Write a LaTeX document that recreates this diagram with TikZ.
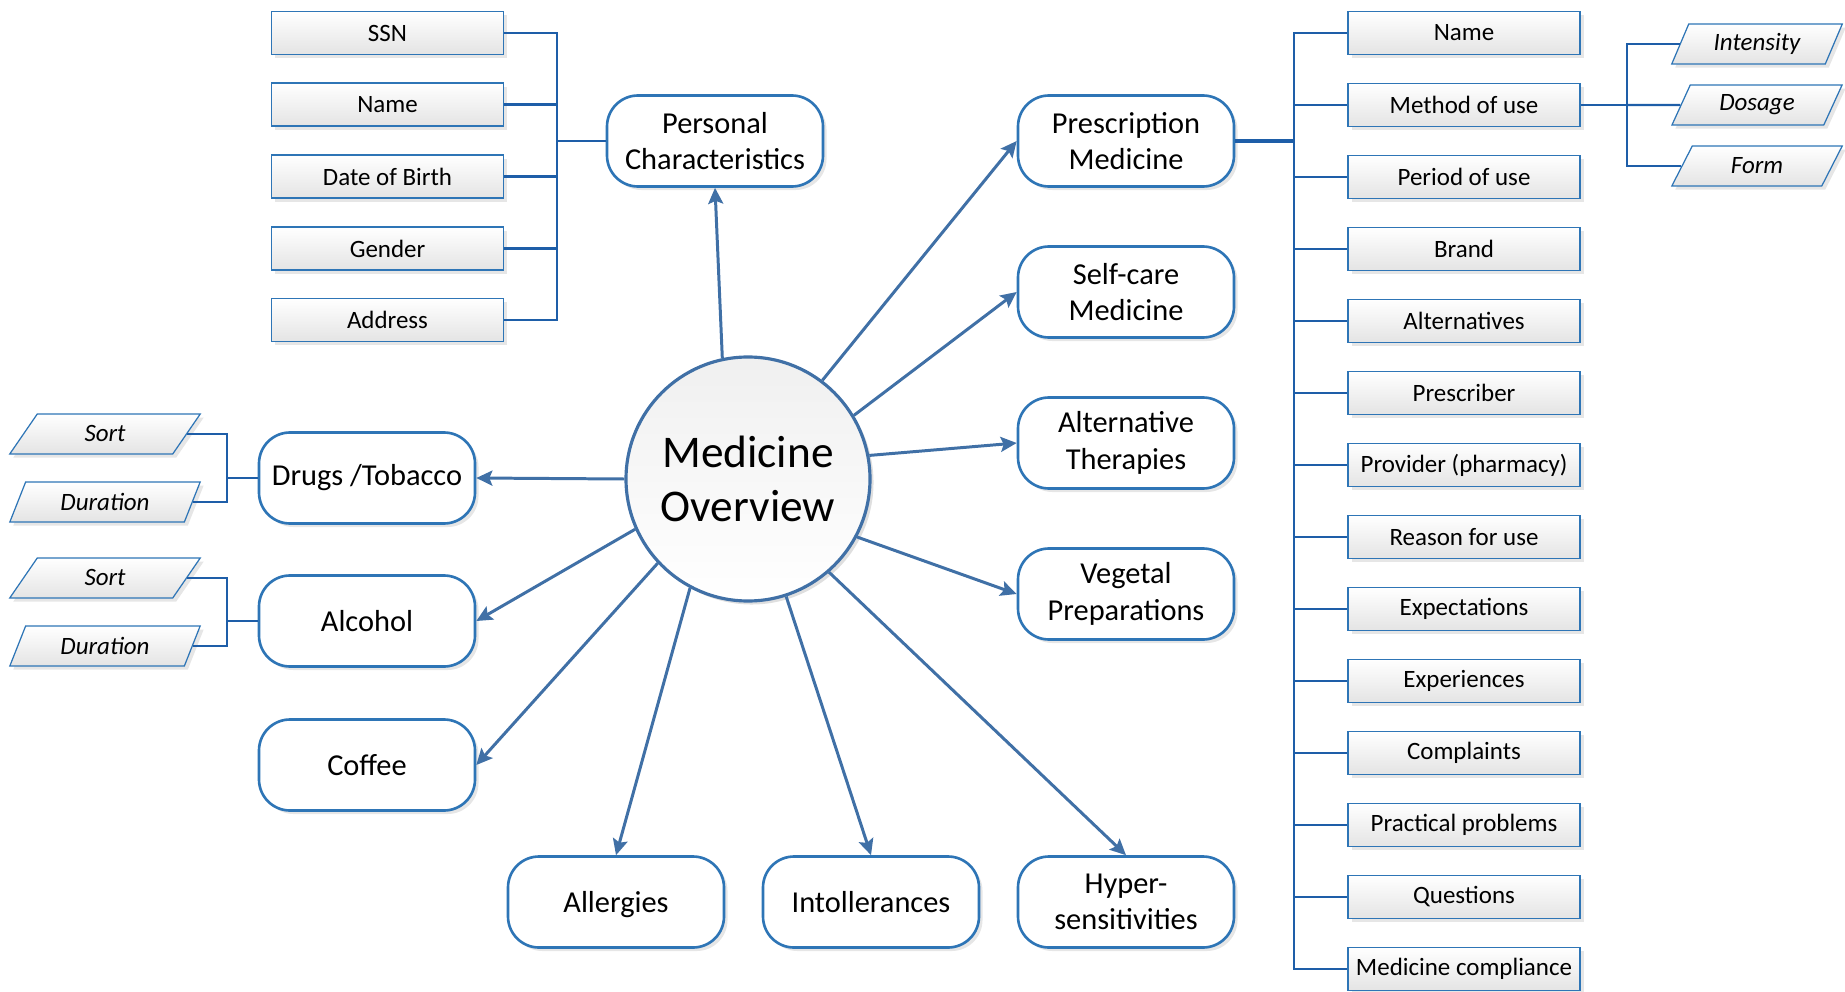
\documentclass[tikz,border=0pt]{standalone}
\usepackage{fontspec}
\setmainfont{Carlito}
\usepackage{tikz}
\usetikzlibrary{arrows.meta,positioning,shapes.geometric,shadows}
\definecolor{arrowblue}{RGB}{64,112,166}
\definecolor{linkblue}{RGB}{30,94,168}
\definecolor{boxblue}{RGB}{46,117,182}
\definecolor{boxgray}{RGB}{228,228,228}

\begin{document}
\begin{tikzpicture}[
    hub/.style={circle, draw=arrowblue, line width=1.8pt, minimum size=4.88cm,
                top color=gray!12, bottom color=white, align=center,
                font=\fontsize{25.8}{31}\selectfont,
                drop shadow={shadow xshift=2pt, shadow yshift=-2pt, opacity=0.25}},
    topic/.style={draw=boxblue, line width=1.5pt, rounded corners=0.62cm,
                  minimum width=4.32cm, minimum height=1.82cm, fill=white,
                  align=center, inner sep=0pt, font=\fontsize{17.3}{20.7}\selectfont,
                  drop shadow={shadow xshift=2pt, shadow yshift=-2pt, opacity=0.2}},
    item/.style={draw=boxblue, line width=0.7pt, minimum width=4.64cm,
                 minimum height=0.86cm, inner sep=0pt, top color=white,
                 bottom color=boxgray, font=\fontsize{14.2}{16}\selectfont,
                 drop shadow={shadow xshift=2pt, shadow yshift=-2pt, opacity=0.2}},
    detail/.style={trapezium, trapezium left angle=63, trapezium right angle=117,
                   trapezium stretches=true, draw=boxblue, line width=0.7pt,
                   minimum height=0.8cm, inner sep=0pt, top color=white,
                   bottom color=boxgray, font=\fontsize{14.2}{16}\selectfont\itshape,
                   drop shadow={shadow xshift=2pt, shadow yshift=-2pt, opacity=0.2}},
    arrow/.style={-{Stealth[length=0.32cm, width=0.3cm, inset=0.06cm]},
                  draw=arrowblue, line width=1.7pt},
    link/.style={draw=linkblue, line width=1.4pt}
  ]
    \useasboundingbox (0,0) rectangle (36.9,-19.84);

    % Centre
    \node[hub] (hub) at (14.96,-9.58) {Medicine\\Overview};

    % Topics round the centre
    \node[topic] (pers) at (14.30,-2.82) {Personal\\Characteristics};
    \node[topic] (presc) at (22.52,-2.82) {Prescription\\Medicine};
    \node[topic] (selfc) at (22.52,-5.84) {Self-care\\Medicine};
    \node[topic] (alter) at (22.52,-8.86) {Alternative\\Therapies};
    \node[topic] (veget) at (22.52,-11.88) {Vegetal\\Preparations};
    \node[topic] (hyper) at (22.52,-18.04) {Hyper-\\sensitivities};
    \node[topic] (intol) at (17.42,-18.04) {Intollerances};
    \node[topic, text depth=0pt] (aller) at (12.32,-18.04) {Allergies};
    \node[topic] (coffee) at (7.34,-15.30) {Coffee};
    \node[topic] (alcohol) at (7.34,-12.42) {Alcohol};
    \node[topic] (drugs) at (7.34,-9.56) {Drugs /Tobacco};

    % Personal characteristics
    \node[item] (ssn) at (7.75,-0.66) {SSN};
    \node[item] (pname) at (7.75,-2.09) {Name};
    \node[item] (birth) at (7.75,-3.53) {Date of Birth};
    \node[item] (gender) at (7.75,-4.97) {Gender};
    \node[item] (addr) at (7.75,-6.40) {Address};
    \coordinate (pbus) at (11.14,-2.82);

    % Prescription medicine
    \node[item] (mname) at (29.28,-0.66) {Name};
    \node[item] (method) at (29.28,-2.10) {Method of use};
    \node[item] (period) at (29.28,-3.54) {Period of use};
    \node[item] (brand) at (29.28,-4.98) {Brand};
    \node[item] (altern) at (29.28,-6.42) {Alternatives};
    \node[item] (prescr) at (29.28,-7.86) {Prescriber};
    \node[item] (provid) at (29.28,-9.30) {Provider (pharmacy)};
    \node[item] (reason) at (29.28,-10.74) {Reason for use};
    \node[item] (expect) at (29.28,-12.18) {Expectations};
    \node[item] (exper) at (29.28,-13.62) {Experiences};
    \node[item] (compl) at (29.28,-15.06) {Complaints};
    \node[item] (pract) at (29.28,-16.50) {Practical problems};
    \node[item] (quest) at (29.28,-17.94) {Questions};
    \node[item] (compli) at (29.28,-19.38) {Medicine compliance};
    \coordinate (rbus) at (25.88,-2.82);

    % Method of use
    \node[detail, minimum width=3.42cm] (intens) at (35.14,-0.88) {Intensity};
    \node[detail, minimum width=3.42cm] (dosage) at (35.14,-2.10) {Dosage};
    \node[detail, minimum width=3.42cm] (form) at (35.14,-3.32) {Form};
    \coordinate (mbus) at (32.54,-2.10);

    % Drugs and alcohol
    \node[detail, minimum width=3.82cm] (dsort) at (2.10,-8.68) {Sort};
    \node[detail, minimum width=3.82cm] (ddur) at (2.10,-10.04) {Duration};
    \node[detail, minimum width=3.82cm] (asort) at (2.10,-11.56) {Sort};
    \node[detail, minimum width=3.82cm] (adur) at (2.10,-12.92) {Duration};
    \coordinate (dbus) at (4.54,-9.56);
    \coordinate (abus) at (4.54,-12.42);

    % Brackets
    \draw[link] (ssn.east) -| (pbus);
    \draw[link] (pname.east) -| (pbus);
    \draw[link] (birth.east) -| (pbus);
    \draw[link] (gender.east) -| (pbus);
    \draw[link] (addr.east) -| (pbus);
    \draw[link] (pbus) -- (pers.west);

    \draw[link, line width=1.9pt] (presc.east) -- (rbus);
    \draw[link] (rbus) |- (mname.west);
    \draw[link] (rbus) |- (method.west);
    \draw[link] (rbus) |- (period.west);
    \draw[link] (rbus) |- (brand.west);
    \draw[link] (rbus) |- (altern.west);
    \draw[link] (rbus) |- (prescr.west);
    \draw[link] (rbus) |- (provid.west);
    \draw[link] (rbus) |- (reason.west);
    \draw[link] (rbus) |- (expect.west);
    \draw[link] (rbus) |- (exper.west);
    \draw[link] (rbus) |- (compl.west);
    \draw[link] (rbus) |- (pract.west);
    \draw[link] (rbus) |- (quest.west);
    \draw[link] (rbus) |- (compli.west);

    \draw[link] (method.east) -- (mbus);
    \draw[link] (mbus) |- (intens.west);
    \draw[link] (mbus) -- (dosage.west);
    \draw[link] (mbus) |- (form.west);

    \draw[link] (dsort.east) -| (dbus);
    \draw[link] (ddur.east) -| (dbus);
    \draw[link] (dbus) -- (drugs.west);
    \draw[link] (asort.east) -| (abus);
    \draw[link] (adur.east) -| (abus);
    \draw[link] (abus) -- (alcohol.west);

    % Arrows
    \draw[arrow] (hub.102) -- (pers.south);
    \draw[arrow] (hub.53) -- (presc.west);
    \draw[arrow] (hub.31) -- (selfc.west);
    \draw[arrow] (hub.11) -- (alter.west);
    \draw[arrow] (hub.332) -- (veget.west);
    \draw[arrow] (hub.311) -- (hyper.north);
    \draw[arrow] (hub.288) -- (intol.north);
    \draw[arrow] (hub.242) -- (aller.north);
    \draw[arrow] (hub.223) -- (coffee.east);
    \draw[arrow] (hub.204) -- (alcohol.east);
    \draw[arrow] (hub.180) -- (drugs.east);
  \end{tikzpicture}
\end{document}
